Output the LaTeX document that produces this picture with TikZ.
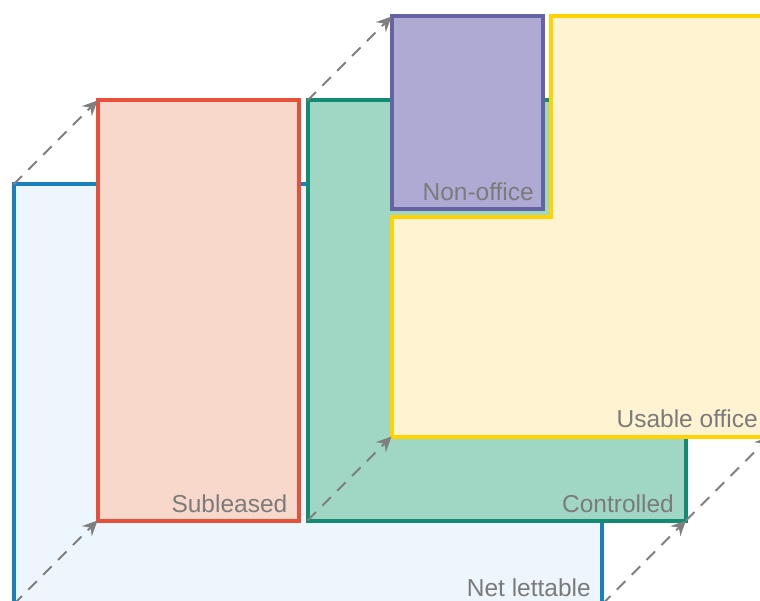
\documentclass[tikz,border=0pt]{standalone}
\usepackage{fontspec}
\setmainfont{Liberation Sans}
\usetikzlibrary{arrows.meta}
\definecolor{nlStroke}{HTML}{1B80BE}
\definecolor{nlFill}{HTML}{ECF6FC}
\definecolor{sbStroke}{HTML}{E8503A}
\definecolor{sbFill}{HTML}{F8D8CA}
\definecolor{ctStroke}{HTML}{138A72}
\definecolor{ctFill}{HTML}{9FD7C4}
\definecolor{uoStroke}{HTML}{FFD200}
\definecolor{uoFill}{HTML}{FFF3D1}
\definecolor{noStroke}{HTML}{6563A6}
\definecolor{noFill}{HTML}{AEAAD3}
\definecolor{lblGray}{HTML}{7B7B7B}
\definecolor{arrGray}{HTML}{7F7F7F}
\begin{document}
\begin{tikzpicture}[x=1pt,y=-1pt,
  area/.style={draw, line width=4pt, inner sep=0pt, outer sep=0pt, anchor=north west, line join=miter},
  lbl/.style={text=lblGray, inner sep=0pt, anchor=base east, font=\fontsize{24.5}{29}\selectfont},
  link/.style={draw=arrGray, line width=2pt, dash pattern=on 12pt off 9pt,
    -{Stealth[length=15pt,width=14pt,inset=5pt]}}
]
\useasboundingbox (0,0) rectangle (760,601);
\clip (0,0) rectangle (760,601);
% layer 0
\node[area, draw=nlStroke, fill=nlFill, minimum width=588.5pt, minimum height=420pt] (nl) at (13.5,184.5) {};
% layer 1
\node[area, draw=sbStroke, fill=sbFill, minimum width=201pt, minimum height=420pt] (sb) at (97.5,100.5) {};
\node[area, draw=ctStroke, fill=ctFill, minimum width=378.5pt, minimum height=420pt] (ct) at (307.5,100.5) {};
% layer 2
\coordinate (uo-sw) at (391.5,436.5);
\coordinate (uo-se) at (770,436.5);
\draw[line width=4pt, draw=uoStroke, fill=uoFill, line join=miter]
  (551,16.5) -- (770,16.5) -- (uo-se) -- (uo-sw) -- (391.5,217.5) -- (551,217.5) -- cycle;
\node[area, draw=noStroke, fill=noFill, minimum width=151.5pt, minimum height=192.5pt] (no) at (391.5,16.5) {};
% connectors
\draw[link] (nl.north west) -- (sb.north west);
\draw[link] (ct.north west) -- (no.north west);
\draw[link] (nl.south west) -- (sb.south west);
\draw[link] (ct.south west) -- (uo-sw);
\draw[link] (nl.south east) -- (ct.south east);
\draw[link] (ct.south east) -- (uo-se);
% labels
\node[lbl] (lnl) at ([shift={(-11,-8.5)}]nl.south east) {Net lettable};
\node[lbl] (lsb) at ([shift={(-11,-8.5)}]sb.south east) {Subleased};
\node[lbl] (lct) at ([shift={(-12,-8.5)}]ct.south east) {Controlled};
\node[lbl] (luo) at ([shift={(-12,-9.5)}]uo-se) {Usable office};
\node[lbl] (lno) at ([shift={(-9,-8)}]no.south east) {Non-office};
\end{tikzpicture}
\end{document}
